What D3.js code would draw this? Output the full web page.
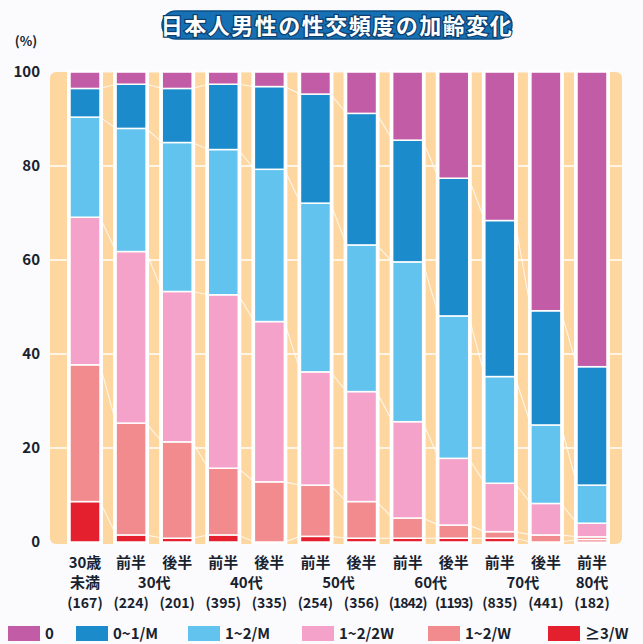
<!DOCTYPE html>
<html>
<head>
<meta charset="utf-8">
<script src="https://cdn.jsdelivr.net/npm/d3@7"></script>
<style>
  body { margin: 0; background: #fbfbfd; }
  svg { display: block; }
  text { font-family: "Noto Sans CJK JP", "Noto Sans", sans-serif; }
</style>
</head>
<body>
<svg id="chart" width="643" height="644"></svg>
<script>
// categories (age groups) and sample sizes
const ageTop = ["30歳", "前半", "後半", "前半", "後半", "前半", "後半", "前半", "後半", "前半", "後半", "前半"];
const ageGroups = [["未満", 0, 0], ["30代", 1, 2], ["40代", 3, 4], ["50代", 5, 6], ["60代", 7, 8], ["70代", 9, 10], ["80代", 11, 11]];
const counts = [167, 224, 201, 395, 335, 254, 356, 1842, 1193, 835, 441, 182];

// frequency categories, stacked bottom -> top
const keys = ["≥3/W", "1~2/W", "1~2/2W", "1~2/M", "0~1/M", "0"];
const legendOrder = ["0", "0~1/M", "1~2/M", "1~2/2W", "1~2/W", "≥3/W"];
const colors = ["#e41f2e", "#f28b8d", "#f4a2c9", "#62c4ee", "#1c8bcb", "#c25ca7"];

// percentages
const perWeek3 = [8.6, 1.5, 0.8, 1.5, 0, 1.2, 0.8, 0.8, 0.8, 0.8, 0, 0.5];
const perWeek1 = [29.1, 23.8, 20.5, 14.2, 12.8, 10.9, 7.8, 4.3, 2.8, 1.4, 1.5, 0.6];
const per2Week = [31.4, 36.5, 32.0, 36.9, 34.1, 24.1, 23.4, 20.5, 14.2, 10.3, 6.7, 2.9];
const perMonth12 = [21.3, 26.2, 31.7, 30.9, 32.4, 35.9, 31.2, 34.0, 30.3, 22.7, 16.7, 8.1];
const perMonth01 = [6.1, 9.4, 11.5, 13.9, 17.6, 23.2, 28.0, 25.9, 29.3, 33.2, 24.3, 25.2];
const none = [3.5, 2.6, 3.5, 2.6, 3.1, 4.7, 8.8, 14.5, 22.6, 31.6, 50.8, 62.7];
const yTicks = [0, 20, 40, 60, 80, 100];

const series = [perWeek3, perWeek1, per2Week, perMonth12, perMonth01, none];
const rows = counts.map((c, i) => {
    let r = { idx: i };
    keys.forEach((k, j) => r[k] = series[j][i]);
    return r;
});

const svg = d3.select("#chart");
const color = d3.scaleOrdinal(keys, colors);
const x = d3.scalePoint().domain(d3.range(12)).range([85, 592]);
const y = d3.scaleLinear().domain([0, 100]).range([542, 72]);
const bw = 30;

// title pill
svg.append("rect")
    .attr("x", 162).attr("y", 11).attr("width", 350).attr("height", 28).attr("rx", 14)
    .attr("fill", "#1671b4").attr("stroke", "#0c4f88").attr("stroke-width", 1.5);
svg.append("text")
    .attr("x", 337).attr("y", 26).attr("dy", "0.36em")
    .attr("text-anchor", "middle").attr("font-size", 22).attr("font-weight", 700)
    .attr("letter-spacing", 1.5)
    .attr("fill", "#fff").attr("stroke", "#0c3f70").attr("stroke-width", 2.5)
    .style("paint-order", "stroke")
    .text("日本人男性の性交頻度の加齢変化");

// orange background stripes
svg.append("rect")
    .attr("x", 50).attr("y", y(100)).attr("width", 572).attr("height", y(0) - y(100) + 2)
    .attr("rx", 6).attr("fill", "#fdd6a0");

// white grid marks
svg.append("g").selectAll("line")
    .data(yTicks.filter(d => d > 0 && d < 100))
    .join("line")
    .attr("x1", 50).attr("x2", 622)
    .attr("y1", d => y(d)).attr("y2", d => y(d))
    .attr("stroke", "#fff").attr("stroke-width", 1.5);

const stacked = d3.stack().keys(keys)(rows);

// connector lines between neighbouring bars
const conn = svg.append("g").attr("stroke", "#fff").attr("stroke-width", 1.2).attr("opacity", 0.75);
stacked.forEach(s => {
    for (let i = 0; i < 11; i++) {
        conn.append("line")
            .attr("x1", x(i) + bw / 2).attr("y1", y(s[i][1]))
            .attr("x2", x(i + 1) - bw / 2).attr("y2", y(s[i + 1][1]));
    }
});

// white bar backings
svg.append("g").selectAll("rect")
    .data(rows)
    .join("rect")
    .attr("x", d => x(d.idx) - bw / 2 - 3)
    .attr("y", y(100) - 2)
    .attr("width", bw + 6)
    .attr("height", y(0) - y(100) + 4)
    .attr("fill", "#fff");

// stacked segments
svg.append("g").selectAll("g")
    .data(stacked)
    .join("g")
    .attr("fill", d => color(d.key))
    .selectAll("rect")
    .data(d => d.filter(p => p[1] - p[0] > 0))
    .join("rect")
    .attr("x", d => x(d.data.idx) - bw / 2)
    .attr("y", d => y(d[1]))
    .attr("width", bw)
    .attr("height", d => y(d[0]) - y(d[1]))
    .attr("stroke", "#fff")
    .attr("stroke-width", 1.5);

// y axis
const yAxis = svg.append("g")
    .attr("transform", "translate(42,0)")
    .call(d3.axisLeft(y).tickValues(yTicks).tickSize(0).tickPadding(2));
yAxis.select(".domain").remove();
yAxis.selectAll("text")
    .attr("font-size", 15).attr("font-weight", 700)
    .attr("fill", "#18222e")
    .style("font-family", "'Noto Sans CJK JP', sans-serif");
svg.append("text")
    .attr("x", 26).attr("y", 46).attr("text-anchor", "middle")
    .attr("font-size", 13).attr("font-weight", 700).attr("fill", "#18222e")
    .text("(%)");

// x labels
const xl = svg.append("g")
    .attr("font-size", 15).attr("font-weight", 700).attr("fill", "#18222e")
    .attr("text-anchor", "middle");
xl.selectAll(".l1").data(ageTop).join("text")
    .attr("class", "l1")
    .attr("x", (d, i) => x(i)).attr("y", 568)
    .text(d => d);
xl.selectAll(".l2").data(ageGroups).join("text")
    .attr("class", "l2")
    .attr("x", d => (x(d[1]) + x(d[2])) / 2).attr("y", 588)
    .text(d => d[0]);
xl.selectAll(".l3").data(counts).join("text")
    .attr("class", "l3")
    .attr("x", (d, i) => x(i)).attr("y", 608)
    .attr("font-size", 14)
    .attr("letter-spacing", d => d >= 1000 ? -1 : 0)
    .text(d => `(${d})`);

// legend
const legX = [8, 76, 188, 302, 428, 548];
const leg = svg.append("g").selectAll("g")
    .data(legendOrder)
    .join("g")
    .attr("transform", (d, i) => `translate(${legX[i]},626)`);
leg.append("rect")
    .attr("width", 32).attr("height", 15)
    .attr("fill", d => color(d));
leg.append("text")
    .attr("x", 37).attr("y", 8).attr("dy", "0.36em")
    .attr("font-size", 15).attr("font-weight", 700).attr("fill", "#18222e")
    .text(d => d);
</script>
</body>
</html>
